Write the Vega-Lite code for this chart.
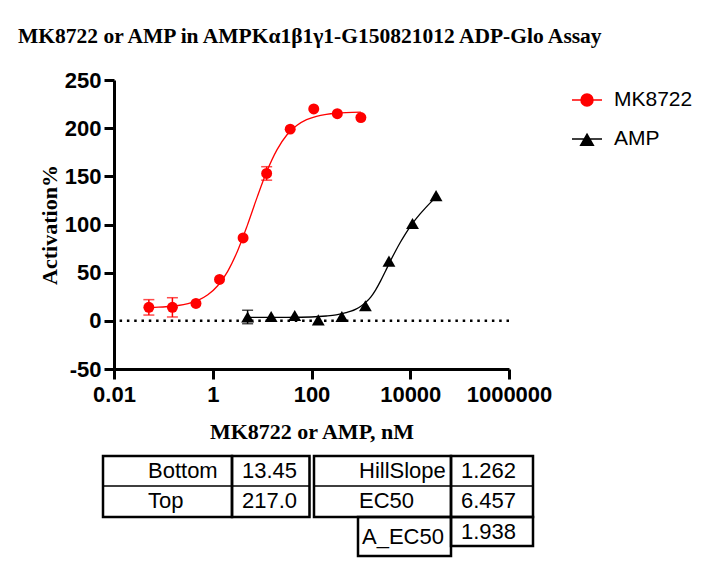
{
  "$schema": "https://vega.github.io/schema/vega-lite/v6.json",
  "background": "white",
  "padding": {"left": 18, "top": 25, "right": 5, "bottom": 5},
  "title": {
    "text": "MK8722 or AMP in AMPKα1β1γ1-G150821012 ADP-Glo Assay",
    "anchor": "start",
    "frame": "group",
    "dx": -96,
    "offset": 22,
    "font": "Liberation Serif",
    "fontSize": 21.5,
    "fontWeight": "bold",
    "color": "black"
  },
  "config": {
    "view": {"stroke": null},
    "axis": {
      "grid": false,
      "domainColor": "black",
      "domainWidth": 3,
      "tickColor": "black",
      "tickWidth": 3,
      "tickSize": 10,
      "labelFont": "Liberation Sans",
      "labelFontSize": 22,
      "labelFontWeight": "bold",
      "labelColor": "black",
      "labelOverlap": false,
      "labelFlush": false,
      "titleFont": "Liberation Serif",
      "titleFontSize": 22,
      "titleFontWeight": "bold",
      "titleColor": "black"
    }
  },
  "datasets": {
    "baseline": [{"act": 0}],
    "points": [
      {"compound": "MK8722", "conc": 0.0508, "act": 14, "lo": 6, "hi": 22},
      {"compound": "MK8722", "conc": 0.1524, "act": 14, "lo": 4, "hi": 24},
      {"compound": "MK8722", "conc": 0.4572, "act": 18},
      {"compound": "MK8722", "conc": 1.372, "act": 43},
      {"compound": "MK8722", "conc": 4.115, "act": 86},
      {"compound": "MK8722", "conc": 12.35, "act": 153, "lo": 146, "hi": 160},
      {"compound": "MK8722", "conc": 37.04, "act": 199},
      {"compound": "MK8722", "conc": 111.1, "act": 220},
      {"compound": "MK8722", "conc": 333.3, "act": 215},
      {"compound": "MK8722", "conc": 1000, "act": 211},
      {"compound": "AMP", "conc": 5.08, "act": 4, "lo": -3, "hi": 11},
      {"compound": "AMP", "conc": 15.24, "act": 4.5},
      {"compound": "AMP", "conc": 45.72, "act": 5.5},
      {"compound": "AMP", "conc": 137.2, "act": 1},
      {"compound": "AMP", "conc": 411.5, "act": 4.5},
      {"compound": "AMP", "conc": 1235, "act": 15.6},
      {"compound": "AMP", "conc": 3704, "act": 62},
      {"compound": "AMP", "conc": 11111, "act": 101},
      {"compound": "AMP", "conc": 33333, "act": 130}
    ],
    "curve": [
      {"compound": "MK8722", "conc": 0.0508, "act": 13.9},
      {"compound": "MK8722", "conc": 0.0794, "act": 14.2},
      {"compound": "MK8722", "conc": 0.1259, "act": 14.9},
      {"compound": "MK8722", "conc": 0.1995, "act": 15.9},
      {"compound": "MK8722", "conc": 0.3162, "act": 17.9},
      {"compound": "MK8722", "conc": 0.5012, "act": 21.2},
      {"compound": "MK8722", "conc": 0.7943, "act": 27.0},
      {"compound": "MK8722", "conc": 1.259, "act": 36.4},
      {"compound": "MK8722", "conc": 1.995, "act": 51.1},
      {"compound": "MK8722", "conc": 3.162, "act": 72.3},
      {"compound": "MK8722", "conc": 5.012, "act": 99.1},
      {"compound": "MK8722", "conc": 7.943, "act": 128.4},
      {"compound": "MK8722", "conc": 12.59, "act": 155.7},
      {"compound": "MK8722", "conc": 19.95, "act": 177.5},
      {"compound": "MK8722", "conc": 31.62, "act": 192.9},
      {"compound": "MK8722", "conc": 50.12, "act": 202.7},
      {"compound": "MK8722", "conc": 79.43, "act": 208.8},
      {"compound": "MK8722", "conc": 125.9, "act": 212.3},
      {"compound": "MK8722", "conc": 199.5, "act": 214.3},
      {"compound": "MK8722", "conc": 316.2, "act": 215.5},
      {"compound": "MK8722", "conc": 501.2, "act": 216.2},
      {"compound": "MK8722", "conc": 1000, "act": 216.6},
      {"compound": "AMP", "conc": 5.08, "act": 3.5},
      {"compound": "AMP", "conc": 10, "act": 3.5},
      {"compound": "AMP", "conc": 31.62, "act": 3.6},
      {"compound": "AMP", "conc": 100, "act": 4.0},
      {"compound": "AMP", "conc": 199.5, "act": 5.0},
      {"compound": "AMP", "conc": 316.2, "act": 6.2},
      {"compound": "AMP", "conc": 501.2, "act": 8.5},
      {"compound": "AMP", "conc": 631, "act": 10.0},
      {"compound": "AMP", "conc": 794.3, "act": 12.2},
      {"compound": "AMP", "conc": 1000, "act": 15.2},
      {"compound": "AMP", "conc": 1259, "act": 19.2},
      {"compound": "AMP", "conc": 1585, "act": 24.6},
      {"compound": "AMP", "conc": 1995, "act": 32.2},
      {"compound": "AMP", "conc": 2512, "act": 41.5},
      {"compound": "AMP", "conc": 3162, "act": 51.8},
      {"compound": "AMP", "conc": 3981, "act": 62.3},
      {"compound": "AMP", "conc": 5012, "act": 72.3},
      {"compound": "AMP", "conc": 6310, "act": 81.6},
      {"compound": "AMP", "conc": 7943, "act": 90.1},
      {"compound": "AMP", "conc": 10000, "act": 97.8},
      {"compound": "AMP", "conc": 12589, "act": 104.7},
      {"compound": "AMP", "conc": 15849, "act": 111},
      {"compound": "AMP", "conc": 19953, "act": 116.8},
      {"compound": "AMP", "conc": 25119, "act": 122.2},
      {"compound": "AMP", "conc": 33333, "act": 128.5}
    ],
    "cells": [
      {"label": "Bottom", "kind": "name", "x0": 0, "x1": 1, "y0": 0, "y1": 1},
      {"label": "13.45", "kind": "value", "x0": 1, "x1": 2, "y0": 0, "y1": 1},
      {"label": "HillSlope", "kind": "name", "x0": 3, "x1": 5, "y0": 0, "y1": 1},
      {"label": "1.262", "kind": "value", "x0": 5, "x1": 6, "y0": 0, "y1": 1},
      {"label": "Top", "kind": "name", "x0": 0, "x1": 1, "y0": 1, "y1": 2},
      {"label": "217.0", "kind": "value", "x0": 1, "x1": 2, "y0": 1, "y1": 2},
      {"label": "EC50", "kind": "name", "x0": 3, "x1": 5, "y0": 1, "y1": 2},
      {"label": "6.457", "kind": "value", "x0": 5, "x1": 6, "y0": 1, "y1": 2},
      {"label": "A_EC50", "kind": "extra name", "x0": 4, "x1": 5, "y0": 2, "y1": 4},
      {"label": "1.938", "kind": "extra value", "x0": 5, "x1": 6, "y0": 2, "y1": 3}
    ],
    "boxes": [
      {"x0": 0, "x1": 1, "y0": 0, "y1": 2},
      {"x0": 1, "x1": 2, "y0": 0, "y1": 2},
      {"x0": 3, "x1": 5, "y0": 0, "y1": 2},
      {"x0": 5, "x1": 6, "y0": 0, "y1": 2},
      {"x0": 4, "x1": 5, "y0": 2, "y1": 4},
      {"x0": 5, "x1": 6, "y0": 2, "y1": 3}
    ]
  },
  "bounds": "flush",
  "spacing": 87,
  "vconcat": [
    {
      "width": 395,
      "height": 289,
      "layer": [
        {
          "data": {"name": "baseline"},
          "mark": {"type": "rule", "color": "black", "strokeWidth": 2.5, "strokeDash": [2.5, 4.8]},
          "encoding": {
            "y": {"field": "act", "type": "quantitative", "scale": {"domain": [-50, 250], "nice": false}, "title": "Activation%"}
          }
        },
        {
          "data": {"name": "curve"},
          "mark": {"type": "line", "interpolate": "monotone", "strokeWidth": 1.3},
          "encoding": {
            "x": {"field": "conc", "type": "quantitative", "scale": {"type": "log", "domain": [0.01, 1000000], "nice": false}, "title": "MK8722 or AMP, nM",
              "axis": {"values": [0.01, 1, 100, 10000, 1000000], "format": "~f", "labelPadding": 5, "titlePadding": 16}},
            "y": {"field": "act", "type": "quantitative", "scale": {"domain": [-50, 250], "nice": false}, "title": "Activation%",
              "axis": {"values": [-50, 0, 50, 100, 150, 200, 250], "labelExpr": "'' + datum.value", "labelPadding": 3, "titlePadding": 3}},
            "color": {
              "field": "compound", "type": "nominal",
              "scale": {"domain": ["MK8722", "AMP"], "range": ["#ff0000", "#000000"]},
              "legend": {
                "orient": "none", "legendX": 457, "legendY": 4, "title": null, "padding": 0,
                "symbolSize": 900, "labelFont": "Liberation Sans", "labelFontSize": 21, "labelColor": "black",
                "labelOffset": 11, "rowPadding": 13, "labelLimit": 300,
                "encoding": {
                  "symbols": {
                    "shape": {"value": {"expr": "datum.value === 'MK8722' ? 'M-1,0L1,0M-0.4,0A0.4,0.4 0 1 0 0.4,0A0.4,0.4 0 1 0 -0.4,0Z' : 'M-1,0L1,0M0,-0.32L0.42,0.42L-0.42,0.42Z'"}},
                    "fill": {"value": {"expr": "datum.value === 'MK8722' ? '#ff0000' : '#000000'"}},
                    "stroke": {"value": {"expr": "datum.value === 'MK8722' ? '#ff0000' : '#000000'"}},
                    "strokeWidth": {"value": 1.5},
                    "size": {"value": 900},
                    "opacity": {"value": 1}
                  }
                }
              }
            }
          }
        },
        {
          "data": {"name": "points"},
          "transform": [{"filter": "isValid(datum.lo)"}],
          "mark": {"type": "rule", "strokeWidth": 1.5},
          "encoding": {
            "x": {"field": "conc", "type": "quantitative", "scale": {"type": "log", "domain": [0.01, 1000000], "nice": false}, "title": "MK8722 or AMP, nM"},
            "y": {"field": "lo", "type": "quantitative", "scale": {"domain": [-50, 250], "nice": false}, "title": "Activation%"},
            "y2": {"field": "hi"},
            "color": {
              "field": "compound", "type": "nominal",
              "scale": {"domain": ["MK8722", "AMP"], "range": ["#ff0000", "#000000"]},
              "legend": {
                "orient": "none", "legendX": 457, "legendY": 4, "title": null, "padding": 0,
                "symbolSize": 900, "labelFont": "Liberation Sans", "labelFontSize": 21, "labelColor": "black",
                "labelOffset": 11, "rowPadding": 13, "labelLimit": 300,
                "encoding": {
                  "symbols": {
                    "shape": {"value": {"expr": "datum.value === 'MK8722' ? 'M-1,0L1,0M-0.4,0A0.4,0.4 0 1 0 0.4,0A0.4,0.4 0 1 0 -0.4,0Z' : 'M-1,0L1,0M0,-0.32L0.42,0.42L-0.42,0.42Z'"}},
                    "fill": {"value": {"expr": "datum.value === 'MK8722' ? '#ff0000' : '#000000'"}},
                    "stroke": {"value": {"expr": "datum.value === 'MK8722' ? '#ff0000' : '#000000'"}},
                    "strokeWidth": {"value": 1.5},
                    "size": {"value": 900},
                    "opacity": {"value": 1}
                  }
                }
              }
            }
          }
        },
        {
          "data": {"name": "points"},
          "transform": [{"filter": "isValid(datum.lo)"}, {"fold": ["lo", "hi"], "as": ["end", "bar"]}],
          "mark": {"type": "tick", "orient": "horizontal", "size": 11, "thickness": 1.5},
          "encoding": {
            "x": {"field": "conc", "type": "quantitative", "scale": {"type": "log", "domain": [0.01, 1000000], "nice": false}, "title": "MK8722 or AMP, nM"},
            "y": {"field": "bar", "type": "quantitative", "scale": {"domain": [-50, 250], "nice": false}, "title": "Activation%"},
            "color": {
              "field": "compound", "type": "nominal",
              "scale": {"domain": ["MK8722", "AMP"], "range": ["#ff0000", "#000000"]},
              "legend": {
                "orient": "none", "legendX": 457, "legendY": 4, "title": null, "padding": 0,
                "symbolSize": 900, "labelFont": "Liberation Sans", "labelFontSize": 21, "labelColor": "black",
                "labelOffset": 11, "rowPadding": 13, "labelLimit": 300,
                "encoding": {
                  "symbols": {
                    "shape": {"value": {"expr": "datum.value === 'MK8722' ? 'M-1,0L1,0M-0.4,0A0.4,0.4 0 1 0 0.4,0A0.4,0.4 0 1 0 -0.4,0Z' : 'M-1,0L1,0M0,-0.32L0.42,0.42L-0.42,0.42Z'"}},
                    "fill": {"value": {"expr": "datum.value === 'MK8722' ? '#ff0000' : '#000000'"}},
                    "stroke": {"value": {"expr": "datum.value === 'MK8722' ? '#ff0000' : '#000000'"}},
                    "strokeWidth": {"value": 1.5},
                    "size": {"value": 900},
                    "opacity": {"value": 1}
                  }
                }
              }
            }
          }
        },
        {
          "data": {"name": "points"},
          "transform": [{"filter": "datum.compound === 'MK8722'"}],
          "mark": {"type": "point", "shape": "circle", "size": 120, "filled": true, "opacity": 1},
          "encoding": {
            "x": {"field": "conc", "type": "quantitative", "scale": {"type": "log", "domain": [0.01, 1000000], "nice": false}, "title": "MK8722 or AMP, nM"},
            "y": {"field": "act", "type": "quantitative", "scale": {"domain": [-50, 250], "nice": false}, "title": "Activation%"},
            "color": {
              "field": "compound", "type": "nominal",
              "scale": {"domain": ["MK8722", "AMP"], "range": ["#ff0000", "#000000"]},
              "legend": {
                "orient": "none", "legendX": 457, "legendY": 4, "title": null, "padding": 0,
                "symbolSize": 900, "labelFont": "Liberation Sans", "labelFontSize": 21, "labelColor": "black",
                "labelOffset": 11, "rowPadding": 13, "labelLimit": 300,
                "encoding": {
                  "symbols": {
                    "shape": {"value": {"expr": "datum.value === 'MK8722' ? 'M-1,0L1,0M-0.4,0A0.4,0.4 0 1 0 0.4,0A0.4,0.4 0 1 0 -0.4,0Z' : 'M-1,0L1,0M0,-0.32L0.42,0.42L-0.42,0.42Z'"}},
                    "fill": {"value": {"expr": "datum.value === 'MK8722' ? '#ff0000' : '#000000'"}},
                    "stroke": {"value": {"expr": "datum.value === 'MK8722' ? '#ff0000' : '#000000'"}},
                    "strokeWidth": {"value": 1.5},
                    "size": {"value": 900},
                    "opacity": {"value": 1}
                  }
                }
              }
            }
          }
        },
        {
          "data": {"name": "points"},
          "transform": [{"filter": "datum.compound === 'AMP'"}],
          "mark": {"type": "point", "shape": "triangle-up", "size": 165, "filled": true, "opacity": 1},
          "encoding": {
            "x": {"field": "conc", "type": "quantitative", "scale": {"type": "log", "domain": [0.01, 1000000], "nice": false}, "title": "MK8722 or AMP, nM"},
            "y": {"field": "act", "type": "quantitative", "scale": {"domain": [-50, 250], "nice": false}, "title": "Activation%"},
            "color": {
              "field": "compound", "type": "nominal",
              "scale": {"domain": ["MK8722", "AMP"], "range": ["#ff0000", "#000000"]},
              "legend": {
                "orient": "none", "legendX": 457, "legendY": 4, "title": null, "padding": 0,
                "symbolSize": 900, "labelFont": "Liberation Sans", "labelFontSize": 21, "labelColor": "black",
                "labelOffset": 11, "rowPadding": 13, "labelLimit": 300,
                "encoding": {
                  "symbols": {
                    "shape": {"value": {"expr": "datum.value === 'MK8722' ? 'M-1,0L1,0M-0.4,0A0.4,0.4 0 1 0 0.4,0A0.4,0.4 0 1 0 -0.4,0Z' : 'M-1,0L1,0M0,-0.32L0.42,0.42L-0.42,0.42Z'"}},
                    "fill": {"value": {"expr": "datum.value === 'MK8722' ? '#ff0000' : '#000000'"}},
                    "stroke": {"value": {"expr": "datum.value === 'MK8722' ? '#ff0000' : '#000000'"}},
                    "strokeWidth": {"value": 1.5},
                    "size": {"value": 900},
                    "opacity": {"value": 1}
                  }
                }
              }
            }
          }
        }
      ]
    },
    {
      "width": 395,
      "height": 100,
      "layer": [
        {
          "data": {"name": "boxes"},
          "mark": {"type": "rect", "filled": false, "color": "black", "strokeWidth": 2.5},
          "encoding": {
            "x": {"field": "x0", "type": "quantitative", "axis": null,
              "scale": {"domain": [0, 1, 2, 3, 4, 5, 6], "range": [-11, 118, 195.5, 200, 244, 337, 419], "nice": false, "zero": false}},
            "x2": {"field": "x1"},
            "y": {"field": "y0", "type": "quantitative", "axis": null,
              "scale": {"domain": [0, 1, 2, 3, 4], "range": [0, 30, 61, 90, 100], "nice": false, "zero": false}},
            "y2": {"field": "y1"}
          }
        },
        {
          "data": {"name": "cells"},
          "mark": {"type": "rect", "filled": false, "color": "black", "strokeWidth": 1.2},
          "encoding": {
            "x": {"field": "x0", "type": "quantitative", "axis": null},
            "x2": {"field": "x1"},
            "y": {"field": "y0", "type": "quantitative", "axis": null},
            "y2": {"field": "y1"}
          }
        },
        {
          "data": {"name": "cells"},
          "transform": [{"filter": "datum.kind === 'name'"}],
          "mark": {"type": "text", "align": "left", "baseline": "alphabetic", "dx": 45, "dy": 22, "font": "Liberation Sans", "fontSize": 22, "color": "black"},
          "encoding": {
            "x": {"field": "x0", "type": "quantitative", "axis": null},
            "y": {"field": "y0", "type": "quantitative", "axis": null},
            "text": {"field": "label"}
          }
        },
        {
          "data": {"name": "cells"},
          "transform": [{"filter": "datum.kind === 'value' || datum.kind === 'extra value'"}],
          "mark": {"type": "text", "align": "left", "baseline": "alphabetic", "dx": 10, "dy": 22, "font": "Liberation Sans", "fontSize": 22, "color": "black"},
          "encoding": {
            "x": {"field": "x0", "type": "quantitative", "axis": null},
            "y": {"field": "y0", "type": "quantitative", "axis": null},
            "text": {"field": "label"}
          }
        },
        {
          "data": {"name": "cells"},
          "transform": [{"filter": "datum.kind === 'extra name'"}],
          "mark": {"type": "text", "align": "left", "baseline": "alphabetic", "dx": 4, "dy": 27, "font": "Liberation Sans", "fontSize": 22, "color": "black"},
          "encoding": {
            "x": {"field": "x0", "type": "quantitative", "axis": null},
            "y": {"field": "y0", "type": "quantitative", "axis": null},
            "text": {"field": "label"}
          }
        }
      ]
    }
  ]
}
